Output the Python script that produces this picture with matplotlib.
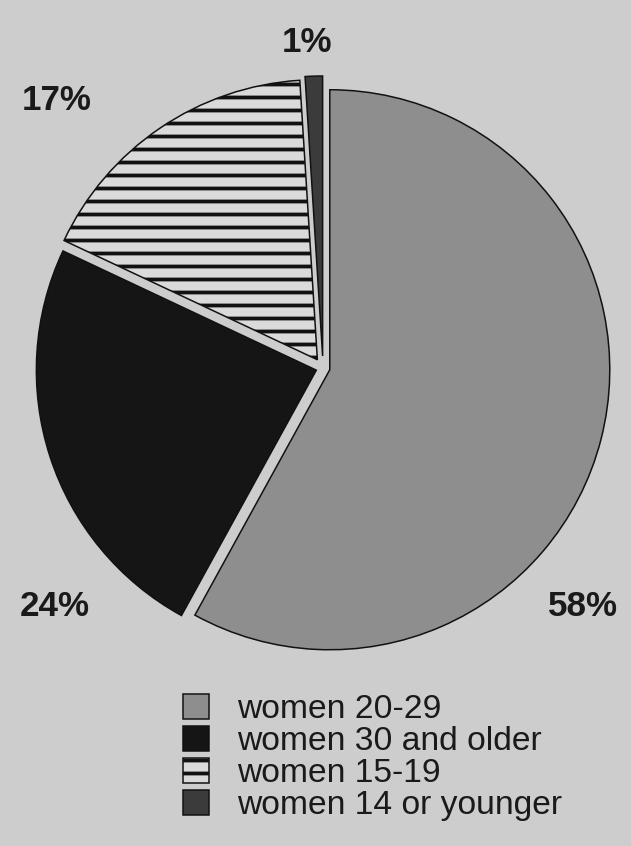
import matplotlib
matplotlib.use('Agg')
import matplotlib.pyplot as plt

categories = ['women 20-29', 'women 30 and older', 'women 15-19', 'women 14 or younger']
shares = [58, 24, 17, 1]
pct_labels = ['58%', '24%', '17%', '1%']

W, H, DPI = 631, 846, 78
plt.rcParams['hatch.linewidth'] = 3.5
plt.rcParams['font.family'] = ['Liberation Sans', 'DejaVu Sans']
BG = '#cdcdcd'
INK = '#1a1a1a'

fig = plt.figure(figsize=(W / DPI, H / DPI), dpi=DPI, facecolor=BG)
ax = fig.add_axes([0, 0, 1, 1])
ax.set_facecolor(BG)

faces = ['#8e8e8e', '#151515', '#dadada', '#3b3b3b']
hatches = [None, None, '-', None]
explode = [7, 7, 10, 12]
wedges, _ = ax.pie(shares, explode=explode, center=(323, H - 368), radius=280,
                   startangle=90, counterclock=False, colors=faces, hatch=hatches,
                   wedgeprops=dict(edgecolor='#111111', linewidth=1.4))

ax.set_xlim(0, W)
ax.set_ylim(0, H)
ax.set_aspect('equal')
ax.axis('off')

label_pos = [(583, 607), (55, 607), (57, 100), (307, 42)]
for lab, (x, y) in zip(pct_labels, label_pos):
    ax.text(x, H - y, lab, ha='center', va='center', fontsize=32.3,
            fontweight='bold', color=INK)

leg = ax.legend(wedges, categories, loc='upper left',
                bbox_to_anchor=(183 / W, 1 - 694 / H), bbox_transform=fig.transFigure,
                frameon=False, fontsize=31, handlelength=0.76, handleheight=0.76,
                handletextpad=0.86, labelspacing=0.025, borderpad=0, borderaxespad=0,
                labelcolor=INK)

fig.savefig('out.png', dpi=DPI, facecolor=BG)
